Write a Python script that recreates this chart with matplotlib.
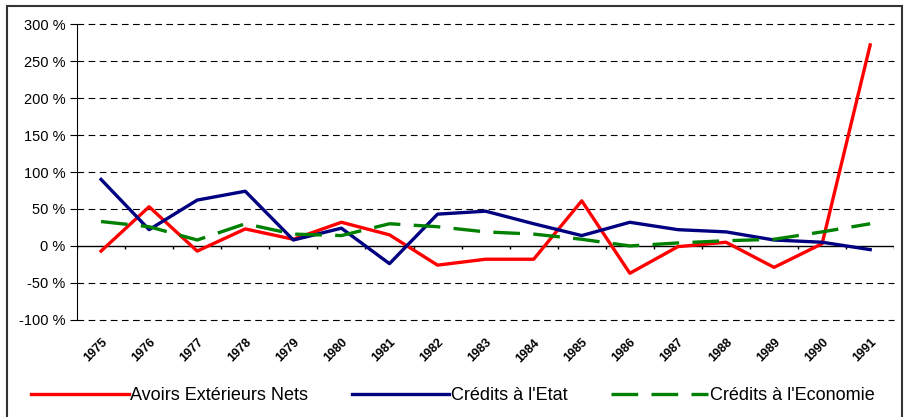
import matplotlib.pyplot as plt
import numpy as np

plt.rcParams['font.family'] = ['Liberation Sans', 'DejaVu Sans']

years = ['1975', '1976', '1977', '1978', '1979', '1980', '1981', '1982', '1983',
         '1984', '1985', '1986', '1987', '1988', '1989', '1990', '1991']
avoirs = [-7, 53, -7, 23, 9, 32, 15, -26, -18, -18, 61, -37, -1, 5, -29, 3, 272]
credits_etat = [90, 22, 62, 74, 8, 24, -24, 43, 47, 30, 14, 32, 22, 19, 8, 5, -5]
credits_eco = [33, 26, 8, 30, 16, 14, 30, 26, 19, 16, 9, 0, 4, 7, 9, 19, 30]
yticks = [-100, -50, 0, 50, 100, 150, 200, 250, 300]

fig = plt.figure(figsize=(9.06, 4.17), dpi=100)
ax = fig.add_axes([0.085, 0.233, 0.902, 0.709])

x = np.arange(len(years))
ax.plot(x, avoirs, color='#ff0000', lw=2.4, label='Avoirs Extérieurs Nets', zorder=3)
ax.plot(x, credits_etat, color='#000080', lw=2.4, label="Crédits à l'Etat", zorder=3)
ax.plot(x, credits_eco, color='#008000', lw=2.4, dashes=(8, 4),
        label="Crédits à l'Economie", zorder=3)

ax.set_xlim(-0.5, len(years) - 0.5)
ax.set_ylim(-100, 300)
ax.set_yticks(yticks)
ax.set_yticklabels([f'{v} %' for v in yticks], fontsize=10.5)
for v in yticks:
    if v != 0:
        ax.axhline(v, color='black', lw=0.8, dashes=(6, 4), zorder=1, clip_on=False)
ax.axhline(0, color='black', lw=1, zorder=2)
ax.vlines(np.arange(len(years) + 1) - 0.5, -4, 0, color='black', lw=1)

ax.set_xticks(x)
ax.set_xticklabels(years, rotation=45, ha='right', rotation_mode='anchor',
                   fontsize=9, fontweight='bold')
ax.tick_params(axis='x', length=0, pad=12)
ax.tick_params(axis='y', direction='out', length=5)
for s in ['top', 'right', 'bottom']:
    ax.spines[s].set_visible(False)

fig.legend(loc='center', ncol=3, frameon=False, fontsize=13,
           bbox_to_anchor=(0.5, 0.051), handlelength=5.4, handletextpad=0.1,
           columnspacing=2.4)

fig.patches.append(plt.Rectangle((0.008, -0.02), 0.988, 1.006, transform=fig.transFigure,
                                 fill=False, edgecolor='#333333', lw=1.5))

fig.savefig('out.png', dpi=100)
